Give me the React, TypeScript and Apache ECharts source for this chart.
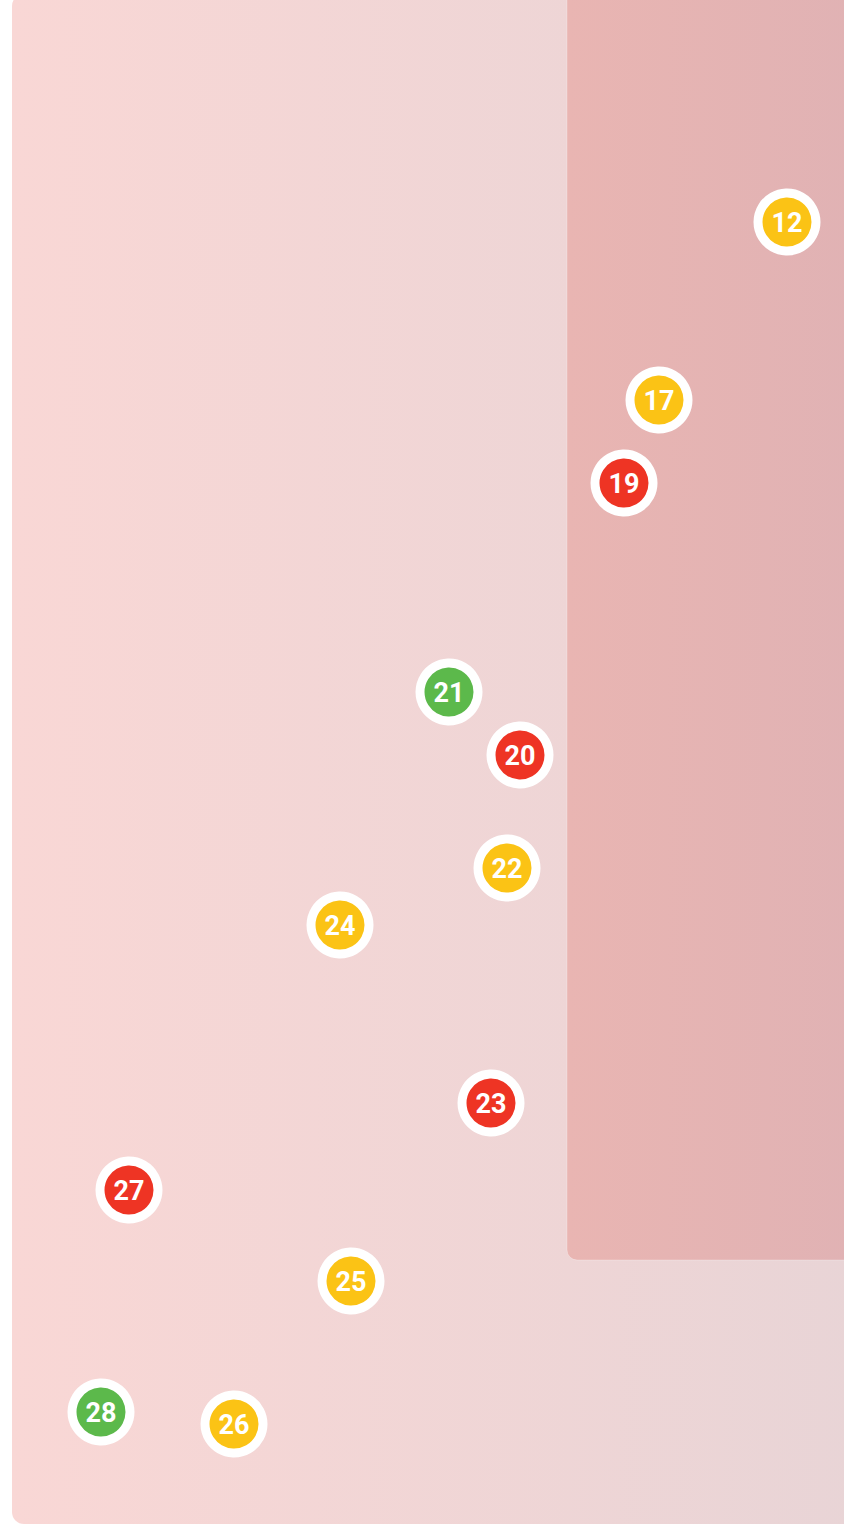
import React, { useEffect, useRef } from "react";
import * as echarts from "echarts";

const labels = ["12", "17", "19", "21", "20", "22", "24", "23", "27", "25", "28", "26"];
const xValues = [787, 659, 624, 449, 520, 507, 340, 491, 129, 351, 101, 234];
const yValues = [222, 400, 483, 692, 755, 868, 925, 1103, 1190, 1281, 1412, 1424];
const statuses = ["yellow", "yellow", "red", "green", "red", "yellow", "yellow", "red", "red", "yellow", "green", "yellow"];

const statusColors: Record<string, string> = {
  yellow: "#fbc315",
  red: "#ee3424",
  green: "#5cb94b",
};

const W = 844;
const H = 1525;

export default function App() {
  const ref = useRef<HTMLDivElement>(null);
  useEffect(() => {
    if (!ref.current) return;
    const chart = echarts.init(ref.current, null, { renderer: "svg" });
    const data = labels.map((l, i) => ({
      value: [xValues[i], yValues[i]],
      name: l,
      itemStyle: { color: statusColors[statuses[i]] },
    }));
    chart.setOption({
      animation: false,
      grid: { left: 0, right: 0, top: 0, bottom: 0 },
      xAxis: { type: "value", min: 0, max: W, show: false },
      yAxis: { type: "value", min: 0, max: H, inverse: true, show: false },
      graphic: [
        {
          type: "rect",
          z: 0,
          shape: { x: 12, y: -6, width: 860, height: 1530, r: 12 },
          style: {
            fill: new echarts.graphic.LinearGradient(0, 0, 1, 0, [
              { offset: 0, color: "#f9d7d5" },
              { offset: 1, color: "#e8d4d6" },
            ]),
          },
        },
        {
          type: "rect",
          z: 1,
          shape: { x: 567, y: -20, width: 300, height: 1280, r: 10 },
          style: {
            fill: new echarts.graphic.LinearGradient(0, 0, 1, 0, [
              { offset: 0, color: "#e9b5b2" },
              { offset: 1, color: "#e0b2b4" },
            ]),
            stroke: "rgba(255,255,255,0.25)",
            lineWidth: 1,
          },
        },
      ],
      series: [
        {
          type: "scatter",
          z: 5,
          symbol: "circle",
          symbolSize: 58,
          data,
          itemStyle: { borderColor: "#ffffff", borderWidth: 9, opacity: 1 },
          label: {
            show: true,
            position: "inside",
            formatter: (p: any) => p.name,
            color: "#ffffff",
            fontSize: 27,
            fontWeight: "bold",
            fontFamily: "Roboto",
            offset: [0, 1],
          },
          emphasis: { disabled: true },
        },
      ],
    });
    return () => chart.dispose();
  }, []);
  return (
    <div
      ref={ref}
      style={{ position: "absolute", left: 0, top: 0, width: W, height: H }}
    />
  );
}
